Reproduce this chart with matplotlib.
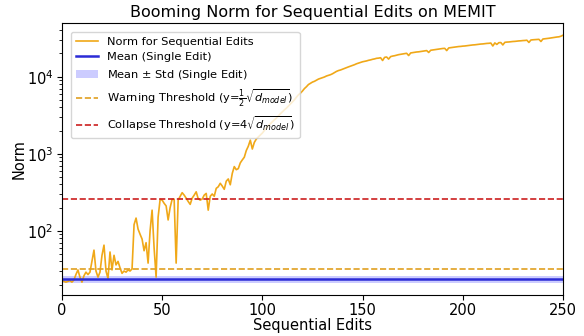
import numpy as np
import matplotlib
matplotlib.use('Agg')
import matplotlib.pyplot as plt

# norm after each sequential edit
norms = [
    22.5, 22, 21.5, 22, 22.5, 21.5, 23, 27, 31, 25,          # 0-9
    21.5, 26, 29, 27, 29, 40, 56, 30, 25, 29,                # 10-19
    48, 65, 30, 24, 53, 31, 48, 36, 40, 33,                  # 20-29
    28, 30, 29, 31, 30, 32, 120, 146, 105, 90,               # 30-39
    78, 55, 70, 38, 100, 185, 60, 25, 150, 255,              # 40-49
    250, 227, 210, 138, 200, 256, 256, 38, 250, 280,         # 50-59
    312, 290, 265, 240, 220, 265, 290, 320, 260, 250,        # 60-69
    258, 290, 305, 185, 280, 300, 280, 355, 372, 413,        # 70-79
    380, 345, 440, 470, 395, 555, 680, 620, 640, 760,        # 80-89
    830, 900, 1100, 1250, 1500, 1150, 1400, 1550, 1650, 1750,  # 90-99
    1850, 2000, 2150, 2300, 2450, 2600, 2750, 2900, 3100, 3300,  # 100-109
    3500, 3700, 3900, 4150, 4400, 4700, 5000, 5400, 5800, 6100,  # 110-119
    6500, 7000, 7400, 7900, 8200, 8500, 8700, 9000, 9300, 9500,  # 120-129
    9700, 9900, 10200, 10400, 10600, 10900, 11300, 11700, 12000, 12200,  # 130-139
    12500, 12800, 13100, 13400, 13700, 14000, 14300, 14700, 15000, 15300,  # 140-149
    15600, 15800, 16000, 16300, 16500, 16800, 17000, 17300, 17400, 17600,  # 150-159
    16200, 17800, 18000, 16900, 18200, 18500, 18700, 19000, 19300, 19500,  # 160-169
    19700, 19900, 20100, 18800, 20300, 20500, 20700, 20900, 21000, 21200,  # 170-179
    21400, 21600, 21800, 20600, 22000, 22200, 22400, 22600, 22800, 23000,  # 180-189
    23200, 23300, 21800, 23600, 23800, 24000, 24200, 24400, 24600, 24700,  # 190-199
    24900, 25000, 25200, 25400, 25600, 25800, 25900, 26100, 26300, 26500,  # 200-209
    26600, 26800, 27000, 27100, 27300, 25000, 27400, 26200, 27600, 27700,  # 210-219
    25800, 27900, 28100, 28200, 28400, 28600, 28700, 28900, 29100, 29200,  # 220-229
    29400, 29500, 29700, 27800, 29900, 30100, 30200, 30400, 30500, 28600,  # 230-239
    30800, 31000, 31200, 31500, 31800, 32100, 32400, 32700, 32900, 33500,  # 240-249
    34500,                                                   # 250
]
edits = list(range(len(norms)))

single_mean = 23.5
single_std = 2.3
d_model = 4096
warn = 0.5 * np.sqrt(d_model)
collapse = 4 * np.sqrt(d_model)

fig = plt.figure(figsize=(5.84, 3.36), dpi=100)
ax = fig.add_subplot(111)
fig.subplots_adjust(left=0.106, right=0.964, bottom=0.122, top=0.932)

l1, = ax.plot(edits, norms, color='#f0a818', lw=1.2, label='Norm for Sequential Edits')
band = ax.fill_between([0, edits[-1]], single_mean - single_std, single_mean + single_std,
                       color='blue', alpha=0.2, lw=0, label='Mean $\\pm$ Std (Single Edit)')
l2 = ax.axhline(single_mean, color='#2b2bd6', lw=1.8, label='Mean (Single Edit)')
l3 = ax.axhline(warn, color='#e0a020', ls='--', lw=1.2,
                label='Warning Threshold (y=$\\frac{1}{2}\\sqrt{d_{model}}$)')
l4 = ax.axhline(collapse, color='#cc1f1f', ls='--', lw=1.2,
                label='Collapse Threshold (y=$4\\sqrt{d_{model}}$)')

ax.set_yscale('log')
ax.set_xlim(0, 250)
ax.set_xticks([0, 50, 100, 150, 200, 250])
ax.tick_params(labelsize=10.5, pad=2.5)
ax.set_xlabel('Sequential Edits', fontsize=10.5, labelpad=0)
ax.set_ylabel('Norm', fontsize=10.5, labelpad=0)
ax.set_title('Booming Norm for Sequential Edits on MEMIT', fontsize=11.5, pad=4)

ax.legend(handles=[l1, l2, band, l3, l4], loc='upper left', fontsize=8.2,
          borderaxespad=0.8)

fig.savefig('out.png', dpi=100)
